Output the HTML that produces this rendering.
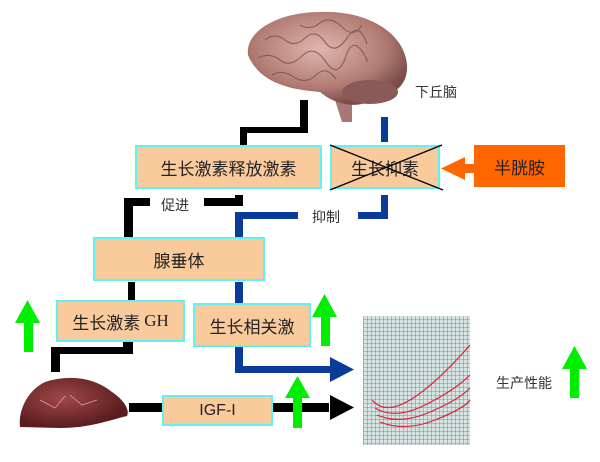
<!DOCTYPE html>
<html><head><meta charset="utf-8"><style>
body{margin:0;width:600px;height:462px;background:#fff;position:relative;overflow:hidden;font-family:"Liberation Sans","Noto Sans CJK SC",sans-serif}
.b{position:absolute;background:#F9CA9C;border:2px solid #5FF2F2;box-sizing:border-box;display:flex;align-items:center;justify-content:center;font-size:17px;color:#222}
.t{position:absolute;font-size:14px;color:#333}
svg{position:absolute;left:0;top:0}
</style></head><body>
<svg width="600" height="462">
<defs>
<radialGradient id="br" cx="45%" cy="40%" r="60%"><stop offset="0" stop-color="#e0b6ac"/><stop offset="0.7" stop-color="#b07a72"/><stop offset="1" stop-color="#7a4c48"/></radialGradient>
<radialGradient id="lv" cx="40%" cy="40%" r="60%"><stop offset="0" stop-color="#a04848"/><stop offset="1" stop-color="#5a1c1e"/></radialGradient>
<pattern id="g" width="4" height="4" patternUnits="userSpaceOnUse"><path d="M4 0V4H0" fill="none" stroke="#5a7e80" stroke-width="0.8"/></pattern>
</defs>
<path d="M335 100 L342 122 L352 122 L352 102 Z" fill="#a77"/>
<path d="M248 55 C245 30 280 12 320 12 C370 10 405 35 407 65 C408 85 395 95 375 98 C360 110 335 105 320 92 C295 90 260 85 248 55 Z" fill="url(#br)"/>
<g fill="none" stroke="#7a4a46" stroke-width="1.2" opacity="0.7">
<path d="M265 40 q10 -8 20 0 t20 -2 t20 4 t22 -4 t20 6"/><path d="M258 58 q12 -6 22 2 t22 -4 t24 6 t20 -6 t22 6"/><path d="M272 75 q10 -6 22 2 t22 -2 t20 4"/><path d="M300 25 q10 6 20 -2 t22 4 t20 -2"/>
</g>
<ellipse cx="370" cy="92" rx="28" ry="12" fill="#8a5a58"/>
<g fill="#000">
<rect x="300" y="100" width="8" height="33"/><rect x="240" y="127" width="68" height="6"/><rect x="240" y="127" width="7" height="23"/>
<rect x="124" y="198" width="26" height="8"/><rect x="204" y="198" width="39" height="8"/><rect x="235" y="195" width="8" height="11"/><rect x="124" y="198" width="9" height="39"/>
<rect x="128" y="282" width="7" height="20"/>
<rect x="123" y="342" width="10" height="12"/><rect x="51" y="347" width="82" height="7"/><rect x="51" y="347" width="9" height="25"/>
<rect x="129" y="403" width="200" height="9"/><polygon points="330,395 354,407.5 330,420"/>
</g>
<g fill="#0a3a9a">
<rect x="381" y="117" width="7" height="25"/>
<rect x="381" y="195" width="7" height="24"/><rect x="358" y="212" width="30" height="7"/><rect x="235" y="212" width="63" height="7"/><rect x="235" y="212" width="8" height="25"/>
<rect x="235" y="282" width="8" height="21"/>
<rect x="235" y="347" width="8" height="26"/><rect x="235" y="366" width="98" height="7"/><polygon points="330,357 354,369.5 330,382"/>
</g>
<rect x="463" y="164" width="12" height="9" fill="#f60"/><polygon points="441,168.5 465,157 465,180" fill="#f60"/>
<g fill="#00ee00">
<polygon points="15,323 27.5,300 40,323 33,323 33,352 24,352 24,323"/>
<polygon points="312,317 324.5,294 337,317 330,317 330,346 321,346 321,317"/>
<polygon points="285,398 297.5,376 310,398 302,398 302,428 293,428 293,398"/>
<polygon points="562,369 574.5,346 587,369 579,369 579,398 570,398 570,369"/>
</g>
<path d="M20 427 C18 410 28 390 45 382 C70 374 95 378 112 392 C124 400 130 410 127 416 C110 420 90 428 60 428 Z" fill="url(#lv)"/>
<g fill="none" stroke="#d9a0a0" stroke-width="0.8"><path d="M40 400 l15 8 l10 -12"/><path d="M70 395 l12 10 l15 -5"/></g>
<rect x="363" y="316" width="107" height="129" fill="#d6e4e4"/>
<rect x="363" y="316" width="107" height="129" fill="url(#g)"/>
<g fill="none" stroke="#d23" stroke-width="1.2">
<path d="M372 400 Q385 415 410 400 T470 345"/><path d="M375 408 Q395 420 425 405 T470 375"/><path d="M377 415 Q400 425 430 412 T470 388"/><path d="M380 422 Q405 432 435 420 T470 400"/>
</g>
</svg>
<div class="b" style="left:135px;top:145px;width:187px;height:44px">生长激素释放激素</div>
<div class="b" style="left:330px;top:145px;width:110px;height:44px">生长抑素</div>
<svg width="600" height="462"><line x1="330" y1="145" x2="443" y2="190" stroke="#000" stroke-width="1.3"/><line x1="330" y1="190" x2="442" y2="145" stroke="#000" stroke-width="1.3"/></svg>
<div class="b" style="left:474px;top:145px;width:91px;height:42px;background:#ff6600;border:none">半胱胺</div>
<div class="b" style="left:93px;top:237px;width:172px;height:44px">腺垂体</div>
<div class="b" style="left:56px;top:300px;width:129px;height:42px">生长激素 <span style="font-family:'Liberation Serif',serif;margin-left:4px">GH</span></div>
<div class="b" style="left:193px;top:303px;width:118px;height:44px">生长相关激</div>
<div class="b" style="left:162px;top:395px;width:111px;height:31px;font-size:16px">IGF-I</div>
<div class="t" style="left:161px;top:195px">促进</div>
<div class="t" style="left:312px;top:207px">抑制</div>
<div class="t" style="left:415px;top:82px">下丘脑</div>
<div class="t" style="left:496px;top:373px">生产性能</div>
</body></html>
